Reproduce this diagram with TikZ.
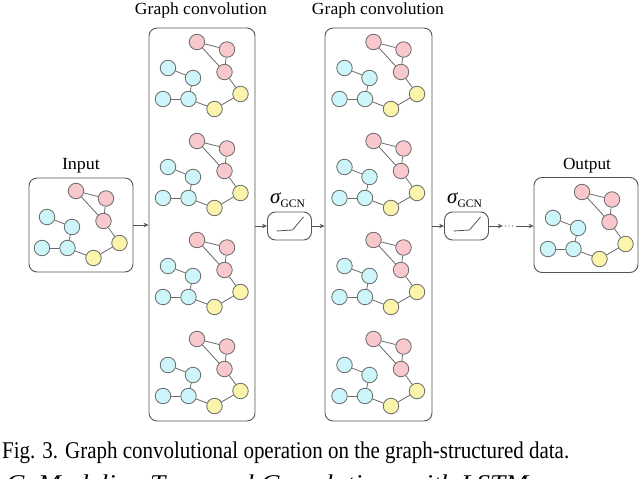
\documentclass[tikz,border=0pt]{standalone}
\usepackage{fontspec}
\setmainfont{Liberation Serif}
\usetikzlibrary{arrows.meta}
\definecolor{pinkf}{HTML}{F9C8CD}
\definecolor{cyanf}{HTML}{CCF6F9}
\definecolor{yelf}{HTML}{FAF5AA}
\definecolor{lineg}{HTML}{6A6A6A}
\definecolor{boxg}{HTML}{555555}
\tikzset{
  gnode/.style={circle,draw=lineg,line width=0.8pt,minimum size=15.5pt,inner sep=0pt},
  pk/.style={gnode,fill=pinkf},
  cy/.style={gnode,fill=cyanf},
  ye/.style={gnode,fill=yelf},
  gedge/.style={draw=lineg,line width=0.8pt},
  panel/.style={draw=boxg,line width=0.9pt,rounded corners=8pt,inner sep=0pt},
  actbox/.style={draw=boxg,line width=0.9pt,rounded corners=8pt,minimum width=44pt,minimum height=28pt,inner sep=0pt},
  flow/.style={draw=boxg,line width=0.8pt,-{Stealth[length=5pt,width=4.5pt]}},
  lbl/.style={inner sep=0pt,anchor=base},
}
\newcommand{\mygraph}[3]{%
  \begin{scope}[shift={(#2,#3)}]
    \node[pk] (#1-p1) at (0,0) {};
    \node[pk] (#1-p2) at (30,7.5) {};
    \node[pk] (#1-p3) at (27.5,30) {};
    \node[ye] (#1-y1) at (43.5,52) {};
    \node[ye] (#1-y2) at (17.5,67) {};
    \node[cy] (#1-c1) at (-29,26) {};
    \node[cy] (#1-c2) at (-4,36) {};
    \node[cy] (#1-c3) at (-34,57) {};
    \node[cy] (#1-c4) at (-8.5,57) {};
    \draw[gedge] (#1-p1) -- (#1-p2);
    \draw[gedge] (#1-p1) -- (#1-p3);
    \draw[gedge] (#1-p2) -- (#1-p3);
    \draw[gedge] (#1-p3) -- (#1-y1);
    \draw[gedge] (#1-y1) -- (#1-y2);
    \draw[gedge] (#1-y2) -- (#1-c4);
    \draw[gedge] (#1-c4) -- (#1-c3);
    \draw[gedge] (#1-c4) -- (#1-c2);
    \draw[gedge] (#1-c2) -- (#1-c1);
  \end{scope}}
\newcommand{\siglabel}{\fontsize{21}{21}\selectfont\itshape σ\raisebox{-4pt}{\upshape\fontsize{11.5}{11.5}\selectfont GCN}}
\begin{document}
\begin{tikzpicture}[x=1pt,y=-1pt]
\useasboundingbox[fill=white] (0,0) rectangle (640,479);

% panels
\node[panel,minimum width=104pt,minimum height=94pt] (inpanel) at (81,225) {};
\node[panel,minimum width=106pt,minimum height=393pt] (convA) at (202,224.5) {};
\node[panel,minimum width=107pt,minimum height=393pt] (convB) at (378.5,224.5) {};
\node[panel,minimum width=104pt,minimum height=95pt] (outpanel) at (586,225) {};

% titles
\node[lbl] (tin) at (81,169) {\resizebox{38pt}{\height}{\fontsize{17}{17}\selectfont Input}};
\node[lbl] (tout) at (587,169) {\resizebox{48pt}{\height}{\fontsize{17}{17}\selectfont Output}};
\node[lbl] (tg1) at (201,15) {\resizebox{132pt}{\height}{\fontsize{17}{17}\selectfont Graph convolution}};
\node[lbl] (tg2) at (378,15) {\resizebox{132pt}{\height}{\fontsize{17}{17}\selectfont Graph convolution}};

% graphs
\mygraph{ga}{76}{191}
\mygraph{gb}{197}{42}
\mygraph{gc}{197}{141}
\mygraph{gd}{197}{240}
\mygraph{ge}{197}{339}
\mygraph{gf}{373.5}{42}
\mygraph{gg}{373.5}{141}
\mygraph{gh}{373.5}{240}
\mygraph{gi}{373.5}{339}
\mygraph{gj}{582}{192}

% activation boxes
\node[actbox] (s1) at (289.5,226) {};
\node[actbox] (s2) at (466.5,226) {};
\foreach \s in {s1,s2}{
  \draw[draw=boxg,line width=0.8pt] ([shift={(-13,5)}]\s.center) -- ([shift={(3,4)}]\s.center) -- ([shift={(14,-9)}]\s.center);
}
\node[lbl,anchor=base west] (sl1) at (270,203) {\siglabel};
\node[lbl,anchor=base west] (sl2) at (447,203) {\siglabel};

% dots
\node[inner sep=0pt,minimum width=10pt,minimum height=6pt] (dots) at (509,226) {};
\foreach \k in {-3.5,0,3.5}{\fill[boxg] ([xshift=\k pt]dots.center) circle (0.7pt);}

% arrows
\draw[flow] (inpanel.east) -- (inpanel.east -| convA.west);
\draw[flow] (convA.east |- s1.west) -- (s1.west);
\draw[flow] (s1.east) -- (s1.east -| convB.west);
\draw[flow] (convB.east |- s2.west) -- (s2.west);
\draw[flow] (s2.east) -- ([xshift=-1pt]dots.west);
\draw[flow] ([xshift=2pt]dots.east) -- (dots.east -| outpanel.west);

% caption
\node[lbl,anchor=base west] (cap) at (2,458) {\resizebox{567pt}{\height}{\fontsize{24}{24}\selectfont Fig. 3. Graph convolutional operation on the graph-structured data.}};
\begin{scope}
  \clip (0,0) rectangle (640,479);
  \node[lbl,anchor=base west] (sub) at (6,491) {\resizebox{522pt}{\height}{\fontsize{24}{24}\selectfont\itshape C. Modeling Temporal Correlations with LSTM}};
\end{scope}
\end{tikzpicture}
\end{document}
